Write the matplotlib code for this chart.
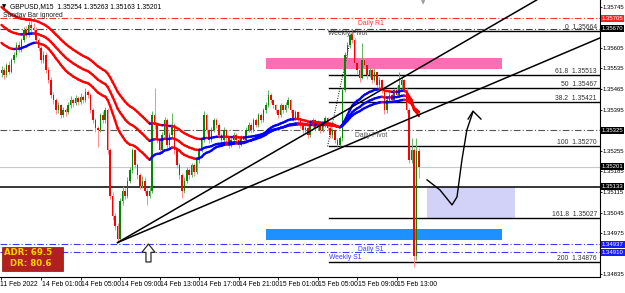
import numpy as np
import matplotlib.pyplot as plt
from matplotlib import font_manager
from matplotlib.patches import Rectangle
from matplotlib.collections import LineCollection
import matplotlib.transforms as mtransforms

# GBPUSD M15, Fri 11 Feb 21:00 .. Tue 15 Feb 15:15 (one entry per bar)
first_open = 1.35520
closes = [
    1.35530, 1.35513, 1.35547, 1.35523, 1.35564, 1.35581, 1.35615, 1.35598, 1.35632, 1.35666,
    1.35649, 1.35684, 1.35673, 1.35666, 1.35632, 1.35605, 1.35564, 1.35581, 1.35530, 1.35496,
    1.35445, 1.35427, 1.35393, 1.35410, 1.35376, 1.35393, 1.35387, 1.35410, 1.35427, 1.35417,
    1.35434, 1.35421, 1.35438, 1.35427, 1.35455, 1.35445, 1.35393, 1.35359, 1.35332, 1.35325,
    1.35376, 1.35359, 1.35393, 1.35257, 1.35103, 1.35035, 1.35001, 1.34956, 1.35086, 1.35120,
    1.35103, 1.35154, 1.35189, 1.35257, 1.35206, 1.35172, 1.35137, 1.35154, 1.35120, 1.35103,
    1.35120, 1.35376, 1.35342, 1.35291, 1.35257, 1.35308, 1.35359, 1.35274, 1.35308, 1.35342,
    1.35257, 1.35206, 1.35172, 1.35120, 1.35154, 1.35189, 1.35172, 1.35206, 1.35182, 1.35223,
    1.35257, 1.35291, 1.35376, 1.35325, 1.35291, 1.35325, 1.35359, 1.35342, 1.35308, 1.35291,
    1.35325, 1.35298, 1.35274, 1.35291, 1.35308, 1.35291, 1.35274, 1.35298, 1.35291, 1.35325,
    1.35342, 1.35325, 1.35359, 1.35342, 1.35376, 1.35359, 1.35393, 1.35410, 1.35445, 1.35427,
    1.35410, 1.35393, 1.35376, 1.35410, 1.35393, 1.35410, 1.35427, 1.35393, 1.35366, 1.35387,
    1.35359, 1.35342, 1.35325, 1.35332, 1.35308, 1.35342, 1.35359, 1.35332, 1.35352, 1.35325,
    1.35342, 1.35366, 1.35332, 1.35308, 1.35325, 1.35291, 1.35274, 1.35298, 1.35462, 1.35581,
    1.35615, 1.35649, 1.35632, 1.35554, 1.35530, 1.35503, 1.35564, 1.35547, 1.35513, 1.35530,
    1.35496, 1.35523, 1.35479, 1.35496, 1.35462, 1.35393, 1.35427, 1.35445, 1.35427, 1.35462,
    1.35445, 1.35479, 1.35496, 1.35462, 1.35393, 1.35223, 1.35257, 1.34898, 1.35254, 1.35201,
]
highs = [
    1.35545, 1.35540, 1.35555, 1.35560, 1.35570, 1.35590, 1.35625, 1.35628, 1.35640, 1.35675,
    1.35680, 1.35695, 1.35711, 1.35690, 1.35675, 1.35640, 1.35612, 1.35595, 1.35590, 1.35540,
    1.35505, 1.35455, 1.35435, 1.35420, 1.35415, 1.35405, 1.35402, 1.35420, 1.35440, 1.35435,
    1.35445, 1.35442, 1.35450, 1.35446, 1.35468, 1.35462, 1.35450, 1.35400, 1.35365, 1.35340,
    1.35385, 1.35390, 1.35405, 1.35400, 1.35265, 1.35115, 1.35045, 1.35010, 1.35095, 1.35135,
    1.35130, 1.35165, 1.35200, 1.35265, 1.35262, 1.35215, 1.35180, 1.35170, 1.35165, 1.35130,
    1.35135, 1.35390, 1.35468, 1.35350, 1.35300, 1.35320, 1.35370, 1.35365, 1.35320, 1.35383,
    1.35350, 1.35265, 1.35215, 1.35180, 1.35165, 1.35200, 1.35198, 1.35215, 1.35212, 1.35232,
    1.35265, 1.35300, 1.35390, 1.35380, 1.35330, 1.35335, 1.35368, 1.35365, 1.35348, 1.35315,
    1.35335, 1.35330, 1.35305, 1.35300, 1.35318, 1.35315, 1.35298, 1.35308, 1.35305, 1.35335,
    1.35352, 1.35350, 1.35368, 1.35365, 1.35385, 1.35382, 1.35402, 1.35420, 1.35462, 1.35450,
    1.35432, 1.35415, 1.35398, 1.35418, 1.35415, 1.35420, 1.35438, 1.35430, 1.35398, 1.35395,
    1.35392, 1.35365, 1.35348, 1.35340, 1.35338, 1.35350, 1.35368, 1.35362, 1.35360, 1.35358,
    1.35350, 1.35375, 1.35370, 1.35338, 1.35332, 1.35330, 1.35298, 1.35305, 1.35470, 1.35590,
    1.35625, 1.35655, 1.35664, 1.35640, 1.35560, 1.35540, 1.35622, 1.35572, 1.35552, 1.35540,
    1.35535, 1.35535, 1.35528, 1.35505, 1.35500, 1.35468, 1.35435, 1.35455, 1.35450, 1.35470,
    1.35475, 1.35523, 1.35505, 1.35500, 1.35468, 1.35400, 1.35298, 1.35265, 1.35298, 1.35263,
]
lows = [
    1.35505, 1.35500, 1.35505, 1.35515, 1.35518, 1.35555, 1.35575, 1.35590, 1.35592, 1.35625,
    1.35640, 1.35642, 1.35660, 1.35650, 1.35620, 1.35595, 1.35552, 1.35555, 1.35520, 1.35485,
    1.35435, 1.35415, 1.35380, 1.35385, 1.35365, 1.35370, 1.35375, 1.35380, 1.35400, 1.35405,
    1.35410, 1.35412, 1.35415, 1.35418, 1.35420, 1.35435, 1.35385, 1.35350, 1.35320, 1.35267,
    1.35318, 1.35350, 1.35350, 1.35245, 1.35090, 1.35020, 1.34985, 1.34943, 1.34950, 1.35070,
    1.35090, 1.35095, 1.35145, 1.35180, 1.35195, 1.35160, 1.35125, 1.35128, 1.35110, 1.35070,
    1.35095, 1.35110, 1.35330, 1.35280, 1.35245, 1.35250, 1.35300, 1.35262, 1.35265, 1.35300,
    1.35245, 1.35195, 1.35160, 1.35096, 1.35110, 1.35145, 1.35160, 1.35165, 1.35170, 1.35175,
    1.35215, 1.35250, 1.35285, 1.35315, 1.35280, 1.35285, 1.35318, 1.35332, 1.35298, 1.35280,
    1.35285, 1.35288, 1.35265, 1.35268, 1.35285, 1.35282, 1.35265, 1.35270, 1.35282, 1.35285,
    1.35318, 1.35315, 1.35320, 1.35335, 1.35335, 1.35350, 1.35352, 1.35385, 1.35405, 1.35418,
    1.35400, 1.35385, 1.35365, 1.35370, 1.35385, 1.35388, 1.35402, 1.35385, 1.35355, 1.35360,
    1.35350, 1.35332, 1.35315, 1.35318, 1.35298, 1.35302, 1.35335, 1.35325, 1.35325, 1.35315,
    1.35318, 1.35335, 1.35325, 1.35300, 1.35298, 1.35282, 1.35270, 1.35270, 1.35290, 1.35455,
    1.35570, 1.35605, 1.35620, 1.35545, 1.35515, 1.35490, 1.35498, 1.35535, 1.35500, 1.35505,
    1.35485, 1.35490, 1.35470, 1.35470, 1.35450, 1.35380, 1.35385, 1.35420, 1.35418, 1.35420,
    1.35438, 1.35440, 1.35470, 1.35455, 1.35385, 1.35212, 1.35215, 1.34861, 1.34885, 1.35163,
]

# time axis labels (bar index, text)
tick_bars = [16, 32, 48, 64, 80, 96, 112, 128, 144, 160]
tick_text = ["14 Feb 01:00", "14 Feb 05:00", "14 Feb 09:00", "14 Feb 13:00", "14 Feb 17:00",
             "14 Feb 21:00", "15 Feb 01:00", "15 Feb 05:00", "15 Feb 09:00", "15 Feb 13:00"]
price_ticks = [1.35745, 1.35675, 1.35605, 1.35535, 1.35465, 1.35395, 1.35325, 1.35255,
               1.35185, 1.35115, 1.35045, 1.34975, 1.34905, 1.34835]
hidden_ticks = [1.35675, 1.35325, 1.34905]   # sit under the price boxes

# moving averages: (period, value at first bar)
ma_periods = [30, 45, 60]
ma_start = [1.35622, 1.35683, 1.35744]

# pivot levels
pivot_names = ["Daily R1", "Weekly Pivot", "Daily Pivot", "Daily S1", "Weekly S1"]
pivot_prices = [1.35705, 1.35670, 1.35325, 1.34937, 1.34910]
pivot_colors = ["#ff3030", "#444444", "#555555", "#3a3aff", "#3a3aff"]
pivot_label_bar = [144.3, 132.0, 143.2, 144.3, 132.6]

# fibonacci levels
fib_names = ["0", "61.8", "50", "38.2", "100", "161.8", "200"]
fib_prices = [1.35664, 1.35513, 1.35467, 1.35421, 1.35270, 1.35027, 1.34876]
fib_start = 132.5

support_line = 1.35133
bid = closes[-1]

# right scale boxes (price, background)
boxes = [(1.35705, "#ff2020"), (1.35670, "black"), (1.35325, "black"), (1.35201, "black"),
         (1.35133, "black"), (1.34937, "#1a1aff"), (1.34910, "#1a1aff")]

# drawn objects
trend_anchor = (47, 1.34943)
trend_through = [(195.7, 1.35666), (241.5, 1.35636)]
fib_diag = [(132, 1.35270), (142, 1.35664)]
zones = [((107.1, 202.6), (1.35533, 1.35571), "#ff6eb4"),
         ((107.1, 202.6), (1.34952, 1.34989), "#1e90ff"),
         ((172.3, 207.9), (1.35027, 1.35133), "#d2d2f8")]
path_bars = [172.3, 177.5, 182.4, 184.4, 186.4, 188.4, 190.9]
path_prices = [1.35156, 1.35122, 1.35071, 1.35098, 1.35224, 1.35326, 1.35388]
head_bars = [188.9, 190.9, 194.1]
head_prices = [1.35363, 1.35390, 1.35363]
up_arrow_tip = (59.5, 1.34938)
up_arrow_tail = (59.5, 1.34877)

closes = np.array(closes)
highs = np.array(highs)
lows = np.array(lows)
opens = np.r_[first_open, closes[:-1]]
idx = np.arange(len(closes))

# small MT4-like labels need a narrow face
installed = {f.name for f in font_manager.fontManager.ttflist}
if "Liberation Sans Narrow" in installed:
    small = dict(fontfamily="Liberation Sans Narrow", fontsize=5.6)
    boxfont = dict(fontfamily="Liberation Sans Narrow", fontsize=4.9)
else:
    small = dict(fontfamily="Liberation Sans", fontsize=4.9)
    boxfont = dict(fontfamily="Liberation Sans", fontsize=4.3)

W, H = 625, 293
fig = plt.figure(figsize=(W / 100, H / 100), dpi=100)
ax = fig.add_axes([0, 16 / H, 600 / W, 277 / H])
ax.set_xlim(-0.61, 242.3)
ax.set_ylim(1.348259, 1.357678)


def px(x, y):
    return x / W, 1 - y / H


# zones first (behind everything)
for (x0, x1), (p0, p1), col in zones:
    ax.add_patch(Rectangle((x0, p0), x1 - x0, p1 - p0, color=col, lw=0, zorder=1))

dashdot = (0, (6, 2, 1, 2))
down1 = ax.transData + mtransforms.ScaledTranslation(0, -1 / 72, fig.dpi_scale_trans)
for name, p, col, lb in zip(pivot_names, pivot_prices, pivot_colors, pivot_label_bar):
    ax.axhline(p, color=col, lw=0.8, ls=dashdot, zorder=2)
    ax.text(lb, p, name, color=col, va="top", ha="left", zorder=6, transform=down1, **small)

ax.axhline(bid, color="#c8c8c8", lw=0.8, zorder=2)
ax.axhline(support_line, color="black", lw=1.1, zorder=2)

for name, p in zip(fib_names, fib_prices):
    ax.plot([fib_start, 242.3], [p, p], color="black", lw=1.0, zorder=2)
    ax.text(241.0, p, f"{name}  {p:.5f}", color="#333333", ha="right", va="bottom", zorder=6, **small)

ax.plot([b for b, _ in fib_diag], [q for _, q in fib_diag], color="black", lw=0.7,
        ls=(0, (1, 1.5)), zorder=3)

# candles
wick_col = np.where(closes >= opens, "#62b562", "#ff8a8a")
body_col = np.where(closes >= opens, "#008a00", "#ff0000")
ax.vlines(idx, lows, highs, colors=wick_col, lw=0.7, zorder=3)
ax.bar(idx, np.abs(closes - opens), bottom=np.minimum(opens, closes), width=0.62,
       color=body_col, lw=0, zorder=4)

# moving averages coloured by slope
for per, start in zip(ma_periods, ma_start):
    a = 2 / (per + 1)
    ema = [start]
    for c in closes[1:]:
        ema.append(ema[-1] + a * (c - ema[-1]))
    ema = np.array(ema)
    pts = np.column_stack([idx, ema])
    segs = np.stack([pts[:-1], pts[1:]], axis=1)
    cols = np.where(np.diff(ema) > 0, "#0000ff", "#ff0000")
    ax.add_collection(LineCollection(segs, colors=cols, lw=1.7, zorder=5, capstyle="round"))

# trend lines from the low
ax0, ap0 = trend_anchor
for tb, tp in trend_through:
    slope = (tp - ap0) / (tb - ax0)
    ax.plot([ax0, 260], [ap0, ap0 + slope * (260 - ax0)], color="black", lw=1.1, zorder=5)

# projected path
ax.plot(path_bars, path_prices, color="black", lw=1.0, zorder=6)
ax.plot(head_bars, head_prices, color="black", lw=1.0, zorder=6)

# hollow up arrow
ax.annotate("", xy=up_arrow_tip, xytext=up_arrow_tail, zorder=7,
            arrowprops=dict(arrowstyle="simple,head_width=0.95,head_length=0.6,tail_width=0.36",
                            fc="white", ec="#2a2a2a", lw=0.9, shrinkA=0, shrinkB=0))

# axes styling
for s in ["top", "left"]:
    ax.spines[s].set_visible(False)
for s in ["right", "bottom"]:
    ax.spines[s].set_linewidth(0.8)
ax.yaxis.tick_right()
ax.set_yticks(price_ticks)
ax.set_yticklabels(["" if p in hidden_ticks else f"{p:.5f}" for p in price_ticks])
ax.tick_params(axis="y", length=1.5, width=0.6, pad=0.5)
for lab in ax.get_yticklabels():
    lab.set_fontfamily(boxfont["fontfamily"])
    lab.set_fontsize(boxfont["fontsize"])
ax.set_xticks([-0.3] + tick_bars)
ax.set_xticklabels([])
ax.tick_params(axis="x", length=2.5, width=0.6)
xtr = mtransforms.blended_transform_factory(ax.transData, fig.transFigure)
ax.text(-0.5, 1 - 284 / H, "11 Feb 2022", transform=xtr, ha="left", va="center", clip_on=False, **small)
for b, t in zip(tick_bars, tick_text):
    ax.text(b + 0.3, 1 - 284 / H, t, transform=xtr, ha="left", va="center", clip_on=False, **small)

# price boxes on the right scale
ytr = mtransforms.blended_transform_factory(fig.transFigure, ax.transData)
for p, col in boxes:
    ax.text(601.8 / W, p, f"{p:.5f}", transform=ytr, color="white", ha="left", va="center",
            zorder=10, clip_on=False, bbox=dict(boxstyle="square,pad=0.15", fc=col, ec="none"), **boxfont)

# header
fig.text(*px(2, 6.5), "\u25bc", fontsize=4, va="center", ha="left")
fig.text(*px(10, 6.5), "GBPUSD,M15  " + " ".join(f"{v:.5f}" for v in
         (opens[-1], highs[-1], lows[-1], closes[-1])), va="center", ha="left", **small)
fig.text(*px(3, 15.5), "Sunday Bar ignored", va="center", ha="left", color="#222222", **small)
fig.text(*px(423, 3), "\u25bc", fontsize=4, va="center", ha="center", color="#999999")

# ADR box
fig.patches.append(Rectangle(px(2, 271), 61 / W, 24 / H, transform=fig.transFigure,
                             fc="#b21f1f", ec="#8a1010", lw=0.5, zorder=8))
fig.text(*px(52, 252.5), "ADR: 69.5", fontsize=6.2, color="#ffd400", fontweight="bold",
         ha="right", va="center", zorder=9)
fig.text(*px(52, 263.5), "DR: 80.6", fontsize=6.2, color="#ffd400", fontweight="bold",
         ha="right", va="center", zorder=9)

fig.savefig("out.png", dpi=100)
